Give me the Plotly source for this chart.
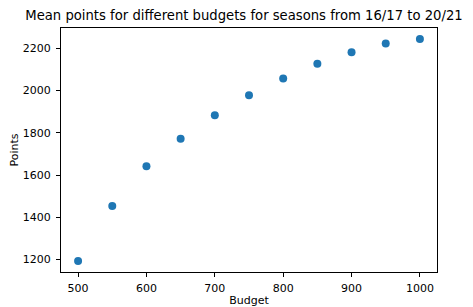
import plotly.graph_objects as go

budgets = [500, 550, 600, 650, 700, 750, 800, 850, 900, 950, 1000]
mean_points = [1194, 1453, 1641, 1772, 1883, 1977, 2056, 2126, 2180, 2222, 2243]

title_text = "Mean points for different budgets for seasons from 16/17 to 20/21"
x_ticks = [500, 600, 700, 800, 900, 1000]
y_ticks = [1200, 1400, 1600, 1800, 2000, 2200]

fig = go.Figure(go.Scatter(
    x=budgets, y=mean_points, mode="markers",
    marker=dict(color="#1f77b4", size=8, line=dict(width=0)),
))

axis_common = dict(
    showgrid=False, zeroline=False, showline=True, linecolor="black", linewidth=1,
    mirror=True, ticks="outside", ticklen=4, tickcolor="black", tickwidth=1,
    tickfont=dict(family="DejaVu Sans", size=11, color="black"),
    automargin=False,
)

# page body has an 8px default margin, so the figure is sized to fit the window
fig.update_layout(
    width=465, height=299,
    margin=dict(l=53, r=36, t=20, b=35),
    paper_bgcolor="white", plot_bgcolor="white",
    font=dict(family="DejaVu Sans", color="black"),
    title=dict(text=title_text, x=0.5075, xanchor="center", y=0.975, yanchor="middle",
               font=dict(family="DejaVu Sans", size=13.2, color="black")),
    xaxis=dict(range=[475, 1025], tickvals=x_ticks, ticklabelstandoff=2,
               title=dict(text="Budget", standoff=2, font=dict(size=11)), **axis_common),
    yaxis=dict(range=[1141.5, 2295], tickvals=y_ticks, ticklabelstandoff=3,
               title=dict(text="Points", standoff=3, font=dict(size=11)), **axis_common),
    showlegend=False,
)

fig.write_html("out.html")
